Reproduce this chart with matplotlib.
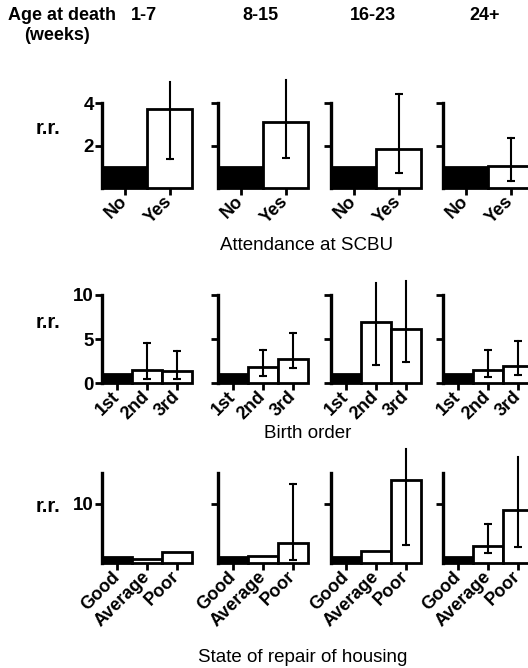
import numpy as np
import matplotlib
matplotlib.use("Agg")
from matplotlib import pyplot as plt

plt.rcParams['font.family'] = ['Liberation Sans', 'DejaVu Sans']

nan = np.nan

# age groups (columns)
ages = ['1-7', '8-15', '16-23', '24+']

# row 1: attendance at SCBU
scbu_cats = ['No', 'Yes']
scbu_rr = [[1.0, 3.7], [1.0, 3.1], [1.0, 1.85], [1.0, 1.05]]
scbu_lo = [[nan, 1.35], [nan, 1.4], [nan, 0.7], [nan, 0.35]]
scbu_hi = [[nan, 5.0], [nan, 5.1], [nan, 4.4], [nan, 2.35]]
scbu_cut = [[False, True], [False, True], [False, False], [False, False]]

# row 2: birth order
birth_cats = ['1st', '2nd', '3rd']
birth_rr = [[1.0, 1.5, 1.4], [1.0, 1.8, 2.7], [1.0, 6.9, 6.1], [1.0, 1.5, 1.9]]
birth_lo = [[nan, 0.5, 0.5], [nan, 0.8, 1.7], [nan, 2.1, 2.4], [nan, 0.7, 0.9]]
birth_hi = [[nan, 4.5, 3.6], [nan, 3.8, 5.7], [nan, 11.4, 11.6], [nan, 3.7, 4.8]]
birth_cut = [[False, False, False], [False, False, False], [False, True, True], [False, False, False]]

# row 3: state of repair of housing
house_cats = ['Good', 'Average', 'Poor']
house_rr = [[1.0, 0.6, 1.8], [1.0, 1.2, 3.4], [1.0, 2.0, 14.1], [1.0, 2.9, 9.0]]
house_lo = [[nan, nan, nan], [nan, nan, 0.5], [nan, nan, 3.0], [nan, 1.7, 2.7]]
house_hi = [[nan, nan, nan], [nan, nan, 13.4], [nan, nan, 19.3], [nan, 6.6, 18.0]]
house_cut = [[False, False, False], [False, False, False], [False, False, True], [False, False, True]]

W, H = 528, 668
fig = plt.figure(figsize=(W / 100, H / 100), dpi=100)


def px_axes(left, top, w, h):
    return fig.add_axes([left / W, 1 - (top + h) / H, w / W, h / H])


def panel(ax, cats, rr, lo, hi, cut, ytop, yticks, show_labels):
    x = np.arange(len(cats))
    colors = ['black'] + ['white'] * (len(cats) - 1)
    ax.bar(x, rr, width=1.0, color=colors, edgecolor='black', linewidth=2.0, clip_on=False, zorder=2)
    for xi, l, h, c in zip(x, lo, hi, cut):
        if np.isnan(l):
            continue
        ax.plot([xi, xi], [l, h], color='black', lw=1.5, clip_on=False, zorder=3)
        ax.plot([xi], [l], marker='_', ms=6, mew=1.5, color='black', clip_on=False, zorder=3)
        if not c:
            ax.plot([xi], [h], marker='_', ms=6, mew=1.5, color='black', clip_on=False, zorder=3)
    ax.set_xlim(-0.5, len(cats) - 0.5)
    ax.set_ylim(0, ytop)
    for s in ['top', 'right', 'bottom']:
        ax.spines[s].set_visible(False)
    ax.spines['left'].set_linewidth(2.4)
    ax.set_xticks(x)
    ax.set_xticklabels(cats, rotation=45, ha='right', va='center', rotation_mode='anchor',
                       fontsize=13, fontweight='bold')
    ax.tick_params(axis='x', length=5, width=2, pad=3)
    ax.set_yticks(yticks)
    if show_labels:
        ax.set_yticklabels([str(t) for t in yticks], fontsize=13.5, fontweight='bold')
    else:
        ax.set_yticklabels([])
    ax.tick_params(axis='y', length=5, width=2, pad=1)
    ax.patch.set_visible(False)


lefts = [102, 218, 331, 443]
rows = [
    (scbu_cats, scbu_rr, scbu_lo, scbu_hi, scbu_cut, 4, [2, 4], 103, 85),
    (birth_cats, birth_rr, birth_lo, birth_hi, birth_cut, 10, [0, 5, 10], 295, 88),
    (house_cats, house_rr, house_lo, house_hi, house_cut, 15.25, [10], 473, 90),
]

for cats, rr, lo, hi, cut, ytop, yticks, top, h in rows:
    for j, left in enumerate(lefts):
        ax = px_axes(left, top, 90, h)
        panel(ax, cats, rr[j], lo[j], hi[j], cut[j], ytop, yticks, j == 0)


def ftext(x, y, s, **kw):
    fig.text(x / W, 1 - y / H, s, **kw)


ftext(8, 15, 'Age at death', fontsize=13, fontweight='bold', va='center', ha='left')
ftext(24, 36, '(weeks)', fontsize=13, fontweight='bold', va='center', ha='left')
for a, left in zip(ages, lefts):
    ftext(left + 42, 15, a, fontsize=13, fontweight='bold', va='center', ha='center')

for y in [128, 323, 506]:
    ftext(36, y, 'r.r.', fontsize=14.5, fontweight='bold', va='center', ha='left')

ftext(307, 245, 'Attendance at SCBU', fontsize=13.5, va='center', ha='center')
ftext(308, 433, 'Birth order', fontsize=13.5, va='center', ha='center')
ftext(303, 657, 'State of repair of housing', fontsize=13.5, va='center', ha='center')

fig.savefig('out.png', dpi=100)
